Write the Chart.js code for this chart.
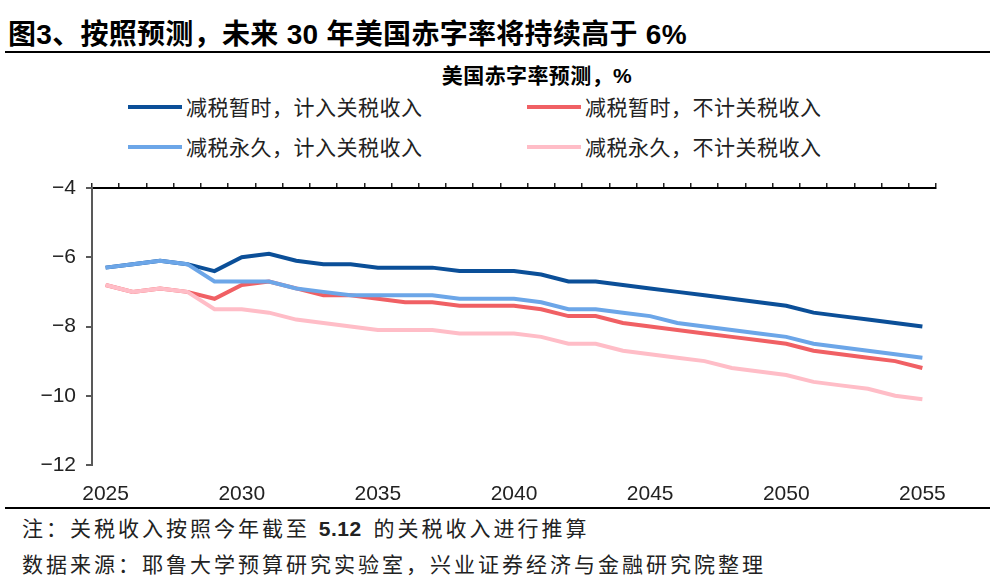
<!DOCTYPE html>
<html>
<head>
<meta charset="utf-8">
<script src="https://cdn.jsdelivr.net/npm/chart.js@4.4.1/dist/chart.umd.min.js"></script>
<style>
  body { margin: 0; width: 994px; height: 582px; background: #fff; overflow: hidden;
         font-family: "Liberation Sans", "Noto Sans CJK SC", sans-serif; color: #111; position: relative; }
  .abs { position: absolute; white-space: nowrap; }
  #title { left: 8px; top: 12px; font-size: 28px; letter-spacing: 0.3px; font-weight: bold; color: #000; }
  .rule { position: absolute; left: 5px; width: 985px; height: 2px; background: #000; }
  #sub { left: 0; width: 1074px; top: 59px; text-align: center; font-size: 21px; letter-spacing: 0.4px; font-weight: bold; color: #000; }
  .leg { font-size: 21px; letter-spacing: 0.5px; color: #222; line-height: 24px; }
  .leg i { display: inline-block; width: 54px; height: 4px; vertical-align: middle; margin-right: 4px; position: relative; top: -2px; }
  .note { left: 22px; font-size: 21px; letter-spacing: 3px; color: #222; }
  .note b { letter-spacing: 0.5px; font-weight: bold; margin-right: 3px; }
  #wrap { position: absolute; left: 0; top: 165px; width: 994px; height: 340px; }
</style>
</head>
<body>
<div id="title" class="abs">图3、按照预测，未来 30 年美国赤字率将持续高于 6%</div>
<div class="rule" style="top:51px"></div>
<div id="sub" class="abs">美国赤字率预测，%</div>
<div class="abs leg" style="left:128px;top:96px"><i style="background:#0B4F98"></i>减税暂时，计入关税收入</div>
<div class="abs leg" style="left:527px;top:96px"><i style="background:#F06064"></i>减税暂时，不计关税收入</div>
<div class="abs leg" style="left:128px;top:136px"><i style="background:#6CA6E8"></i>减税永久，计入关税收入</div>
<div class="abs leg" style="left:527px;top:136px"><i style="background:#FFBDC7"></i>减税永久，不计关税收入</div>
<div id="wrap"><canvas id="c"></canvas></div>
<div class="rule" style="top:507px"></div>
<div class="abs note" style="top:512px">注：关税收入按照今年截至 <b>5.12</b> 的关税收入进行推算</div>
<div class="abs note" style="top:548px">数据来源：耶鲁大学预算研究实验室，兴业证券经济与金融研究院整理</div>
<script>
const years = [2025, 2026, 2027, 2028, 2029, 2030, 2031, 2032, 2033, 2034, 2035, 2036, 2037, 2038, 2039, 2040,
  2041, 2042, 2043, 2044, 2045, 2046, 2047, 2048, 2049, 2050, 2051, 2052, 2053, 2054, 2055];
const xTickYears = [2025, 2030, 2035, 2040, 2045, 2050, 2055];
const yTicks = [-4, -6, -8, -10, -12];

// 减税暂时，计入关税收入
const tempWithTariff = [-6.3, -6.2, -6.1, -6.2, -6.4, -6.0, -5.9, -6.1, -6.2, -6.2, -6.3, -6.3, -6.3, -6.4, -6.4, -6.4,
  -6.5, -6.7, -6.7, -6.8, -6.9, -7.0, -7.1, -7.2, -7.3, -7.4, -7.6, -7.7, -7.8, -7.9, -8.0];
// 减税暂时，不计关税收入
const tempNoTariff = [-6.8, -7.0, -6.9, -7.0, -7.2, -6.8, -6.7, -6.9, -7.1, -7.1, -7.2, -7.3, -7.3, -7.4, -7.4, -7.4,
  -7.5, -7.7, -7.7, -7.9, -8.0, -8.1, -8.2, -8.3, -8.4, -8.5, -8.7, -8.8, -8.9, -9.0, -9.2];
// 减税永久，计入关税收入
const permWithTariff = [-6.3, -6.2, -6.1, -6.2, -6.7, -6.7, -6.7, -6.9, -7.0, -7.1, -7.1, -7.1, -7.1, -7.2, -7.2, -7.2,
  -7.3, -7.5, -7.5, -7.6, -7.7, -7.9, -8.0, -8.1, -8.2, -8.3, -8.5, -8.6, -8.7, -8.8, -8.9];
// 减税永久，不计关税收入
const permNoTariff = [-6.8, -7.0, -6.9, -7.0, -7.5, -7.5, -7.6, -7.8, -7.9, -8.0, -8.1, -8.1, -8.1, -8.2, -8.2, -8.2,
  -8.3, -8.5, -8.5, -8.7, -8.8, -8.9, -9.0, -9.2, -9.3, -9.4, -9.6, -9.7, -9.8, -10.0, -10.1];

const axisFont = { family: "Liberation Sans", size: 21 };

function line(label, data, color, order) {
  return { label, data, borderColor: color, backgroundColor: color, borderWidth: 4,
           pointRadius: 0, tension: 0, order, xAxisID: "x" };
}

new Chart(document.getElementById("c"), {
  type: "line",
  data: {
    labels: years,
    datasets: [
      line("减税暂时，计入关税收入", tempWithTariff, "#0B4F98", 4),
      line("减税暂时，不计关税收入", tempNoTariff, "#F06064", 3),
      line("减税永久，计入关税收入", permWithTariff, "#6CA6E8", 2),
      line("减税永久，不计关税收入", permNoTariff, "#FFBDC7", 1),
    ],
  },
  options: {
    responsive: true,
    maintainAspectRatio: false,
    animation: false,
    layout: { padding: { top: 18, right: 58, bottom: 0, left: 0 } },
    plugins: { legend: { display: false }, tooltip: { enabled: false } },
    scales: {
      x: {
        type: "category",
        position: "bottom",
        offset: true,
        afterFit: (a) => { a.height = 40; },
        grid: { display: false },
        border: { display: false },
        ticks: {
          autoSkip: false, maxRotation: 0, padding: 9, color: "#222", font: axisFont,
          callback: (v, i) => (xTickYears.includes(years[i]) ? String(years[i]) : ""),
        },
      },
      x2: {
        type: "category",
        position: "top",
        labels: years,
        offset: true,
        grid: { offset: true, drawOnChartArea: false, tickLength: 5, color: "#222", lineWidth: 1.5 },
        border: { color: "#000", width: 2 },
        ticks: { display: false },
      },
      y: {
        min: yTicks[yTicks.length - 1],
        max: yTicks[0],
        afterFit: (a) => { a.width = 92; },
        afterBuildTicks: (a) => { a.ticks = yTicks.map((v) => ({ value: v })); },
        grid: { drawOnChartArea: false, tickLength: 6, color: "#595959", lineWidth: 2 },
        border: { color: "#595959", width: 2 },
        ticks: {
          padding: 10, color: "#222", font: axisFont,
          callback: (v) => (v < 0 ? "\u2212" + Math.abs(v) : String(v)),
        },
      },
    },
  },
});
</script>
</body>
</html>
